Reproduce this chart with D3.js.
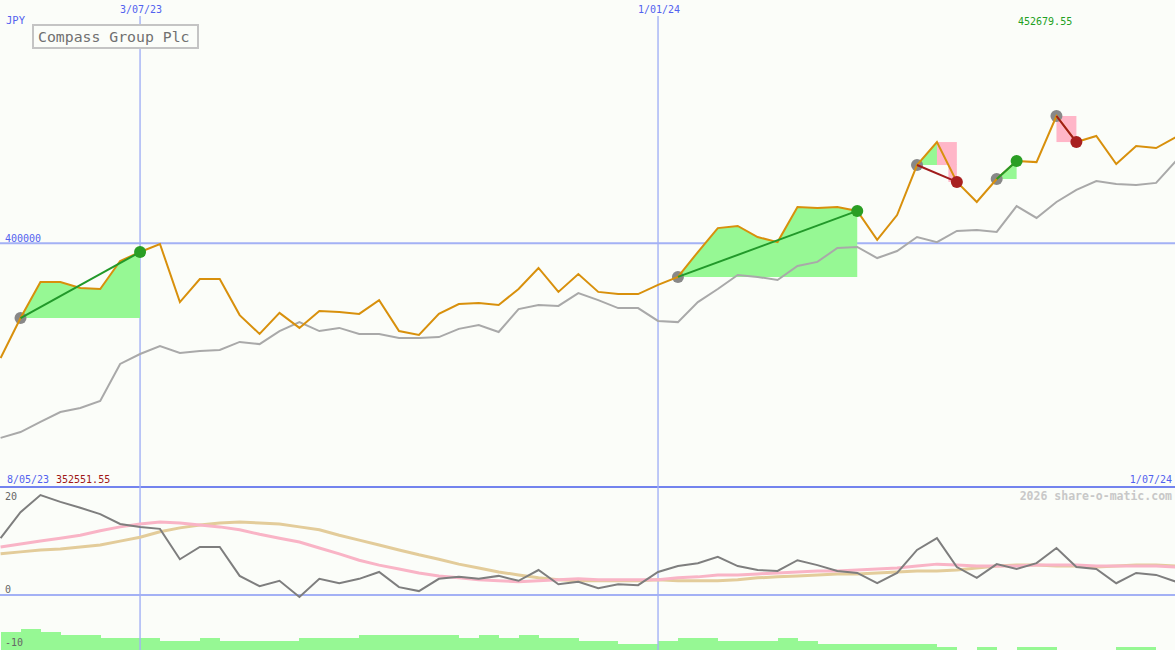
<!DOCTYPE html>
<html><head><meta charset="utf-8">
<script src="https://cdn.jsdelivr.net/npm/d3@7"></script>
<style>body{margin:0;background:#fbfdf9;} svg{display:block;}</style>
</head><body>
<svg id="c" width="1175" height="650"></svg>
<script>
// ---------- DATA ----------
const startDate = "2023-05-15";   // first weekly point
const weekCount = 60;
const title = "Compass Group Plc";
const currency = "JPY";
const firstLabel = "8/05/23";
const lastLabel = "1/07/24";
const priceMin = 352551.55;
const priceMax = 452679.55;
const gridPrices = [400000];
const gridDates = ["2023-07-03", "2024-01-01"];
const oscTicks = [20, 0, -10];
const watermark = "2026 share-o-matic.com";

const price = [352551.55, 369100, 384000, 384000, 381500, 381100, 392700, 396400, 399700, 375700,
  385200, 385200, 370300, 362500, 371200, 365000, 372000, 371600, 370800, 376500,
  363700, 362100, 370800, 374900, 375300, 374500, 381100, 389800, 379900, 387300,
  379900, 379000, 379000, 382800, 386100, 396400, 406300, 407200, 402600, 400500,
  415000, 414600, 415000, 413400, 401400, 411700, 432400, 441900, 425400, 417100,
  426600, 434100, 433600, 452679.55, 441900, 444400, 432800, 440300, 439400, 444000];

const average = [319500, 321900, 326100, 330200, 331900, 334800, 350100, 354200, 357500, 354600,
  355400, 355900, 359200, 358300, 363700, 367400, 363700, 365000, 362500, 362500,
  360800, 360800, 361200, 364600, 366200, 363300, 372800, 374500, 374100, 379400,
  376500, 373200, 373200, 367900, 367400, 375700, 381100, 386900, 386100, 384800,
  390600, 392300, 398100, 398500, 393900, 396800, 402600, 400500, 405100, 405500,
  404700, 415400, 410500, 417100, 422100, 425800, 424500, 424100, 425000, 434100];

const oscillator = [11.6, 16.9, 20.4, 19.0, 17.8, 16.5, 14.5, 13.9, 13.5, 7.3,
  9.8, 9.8, 3.9, 1.8, 2.9, -0.4, 3.3, 2.4, 3.3, 4.7,
  1.6, 0.8, 3.3, 3.7, 3.3, 3.9, 2.9, 5.1, 2.2, 2.7,
  1.4, 2.2, 2.0, 4.7, 5.9, 6.5, 7.8, 5.9, 5.1, 4.9,
  7.1, 6.1, 4.9, 4.5, 2.4, 4.5, 9.2, 11.6, 5.7, 3.5,
  6.3, 5.3, 6.5, 9.6, 5.7, 5.3, 2.4, 4.5, 4.1, 2.7];

const oscPink = [9.8, 10.4, 11.0, 11.6, 12.2, 13.1, 13.9, 14.5, 14.9, 14.7,
  14.3, 13.9, 13.3, 12.4, 11.6, 10.8, 9.6, 8.4, 7.1, 6.1,
  5.3, 4.5, 3.9, 3.5, 3.1, 2.9, 2.7, 2.9, 3.1, 3.3,
  3.1, 3.1, 3.1, 3.1, 3.5, 3.7, 4.1, 4.1, 4.3, 4.5,
  4.7, 4.9, 4.9, 5.1, 5.3, 5.5, 5.9, 6.3, 6.1, 5.9,
  5.9, 5.9, 6.1, 6.1, 6.1, 5.9, 5.9, 5.9, 5.9, 5.7];

const oscTan = [8.4, 8.8, 9.2, 9.4, 9.8, 10.2, 11.0, 11.8, 12.9, 13.7,
  14.3, 14.7, 14.9, 14.7, 14.5, 13.9, 13.3, 12.2, 11.2, 10.2,
  9.2, 8.2, 7.3, 6.3, 5.5, 4.7, 4.1, 3.5, 3.1, 2.9,
  2.9, 2.9, 2.9, 3.1, 2.9, 2.9, 2.9, 3.1, 3.5, 3.7,
  3.9, 4.1, 4.3, 4.3, 4.5, 4.7, 4.9, 4.9, 5.1, 5.5,
  5.9, 6.1, 6.1, 5.9, 5.9, 5.7, 5.9, 6.1, 6.1, 5.9];

// weekly bars (one per interval between points)
const bars = [6, 7, 6, 5, 5, 4, 4, 4, 3, 3,
  4, 3, 3, 3, 3, 4, 4, 4, 5, 5,
  5, 5, 5, 4, 5, 4, 5, 4, 4, 3,
  3, 2, 2, 3, 4, 4, 3, 3, 3, 4,
  3, 2, 2, 2, 2, 2, 2, 1, 0, 1,
  0, 1, 1, 0, 0, 0, 1, 1, 0];

const tradeEntries = [1, 34, 46, 50, 53];
const tradeExits   = [7, 43, 48, 51, 54];

// ---------- CHART ----------
const W = 1175, H = 650;
const svg = d3.select("#c");
const font = "'DejaVu Sans Mono', monospace";
const parse = d3.timeParse("%Y-%m-%d");
const start = parse(startDate);
const dates = d3.range(weekCount).map(i => d3.timeDay.offset(start, 7 * i));
const fmt = d3.timeFormat("%-d/%m/%y");

const x = d3.scaleTime().domain([dates[0], dates[weekCount - 1]]).range([0.6, 1176]);
const y = d3.scaleLinear().domain([priceMin, priceMax]).range([358, 116]);
const yo = d3.scaleLinear().domain([-10, 20]).range([644, 497]);
const yb = d3.scaleLinear().domain([0, 7]).range([650, 628.7]);

const lightBlue = "#a3b1f5", darkBlue = "#7383ee", textBlue = "#5262ef";

svg.append("rect").attr("width", W).attr("height", H).attr("fill", "#fbfdf9");

// grid lines
gridPrices.forEach(p => {
  svg.append("line").attr("x1", 0).attr("x2", W).attr("y1", y(p)).attr("y2", y(p))
    .attr("stroke", lightBlue).attr("stroke-width", 2);
});
svg.append("line").attr("x1", 0).attr("x2", W).attr("y1", yo(0)).attr("y2", yo(0))
  .attr("stroke", lightBlue).attr("stroke-width", 2);
svg.append("line").attr("x1", 0).attr("x2", W).attr("y1", 487).attr("y2", 487)
  .attr("stroke", darkBlue).attr("stroke-width", 2.2);

// bars
svg.append("g").selectAll("rect").data(bars).join("rect")
  .attr("x", (d, i) => x(dates[i]))
  .attr("width", (d, i) => x(dates[i + 1]) - x(dates[i]) + 0.3)
  .attr("y", d => yb(d))
  .attr("height", d => yb(0) - yb(d))
  .attr("fill", "#96f894")
  .attr("shape-rendering", "crispEdges");

gridDates.forEach(ds => {
  const gx = x(parse(ds));
  svg.append("line").attr("x1", gx).attr("x2", gx).attr("y1", 16).attr("y2", H)
    .attr("stroke", lightBlue).attr("stroke-width", 1.4);
  svg.append("text").attr("x", gx + 1).attr("y", 13).attr("text-anchor", "middle")
    .attr("font-family", font).attr("font-size", 10).attr("fill", textBlue).text(fmt(parse(ds)));
});

// trade fills
const fills = svg.append("g");
tradeEntries.forEach((e, t) => {
  const ex = tradeExits[t];
  const ev = price[e];
  const idx = d3.range(e, ex + 1);
  const area = d3.area().x(i => x(dates[i])).y0(y(ev)).y1(i => y(Math.max(price[i], ev)));
  fills.append("path").attr("d", area(idx)).attr("fill", "#96f894");
  if (price[ex] < ev) {
    const p = idx.reduce((a, b) => price[b] > price[a] ? b : a, e);
    if (p !== e) {
      fills.append("rect").attr("x", x(dates[p])).attr("width", x(dates[ex]) - x(dates[p]))
        .attr("y", y(price[p])).attr("height", y(ev) - y(price[p])).attr("fill", "#ffb6c8");
    }
    let xc = x(dates[p]);
    for (let k = p; k < ex; k++) {
      if (price[k] >= ev && price[k + 1] < ev) {
        const tt = (price[k] - ev) / (price[k] - price[k + 1]);
        xc = x(dates[k]) + tt * (x(dates[k + 1]) - x(dates[k]));
        break;
      }
    }
    fills.append("rect").attr("x", xc).attr("width", x(dates[ex]) - xc)
      .attr("y", y(ev)).attr("height", y(price[ex]) - y(ev)).attr("fill", "#ffb6c8");
  }
});

// lower panel lines
const lo = d3.line().x((d, i) => x(dates[i])).y(d => yo(d));
svg.append("path").attr("d", lo(oscTan)).attr("fill", "none").attr("stroke", "#e3cc9a").attr("stroke-width", 3);
svg.append("path").attr("d", lo(oscPink)).attr("fill", "none").attr("stroke", "#f9b4c6").attr("stroke-width", 3);
svg.append("path").attr("d", lo(oscillator)).attr("fill", "none").attr("stroke", "#7e7e7e").attr("stroke-width", 2);

// price lines
const lp = d3.line().x((d, i) => x(dates[i])).y(d => y(d));
svg.append("path").attr("d", lp(average)).attr("fill", "none").attr("stroke", "#a9a9a9").attr("stroke-width", 2);

// entry dots
tradeEntries.forEach(e => {
  svg.append("circle").attr("cx", x(dates[e])).attr("cy", y(price[e])).attr("r", 6).attr("fill", "#888888");
});
svg.append("path").attr("d", lp(price)).attr("fill", "none").attr("stroke", "#d8900c").attr("stroke-width", 2);

tradeEntries.forEach((e, t) => {
  const ex = tradeExits[t];
  const win = price[ex] >= price[e];
  svg.append("line").attr("x1", x(dates[e])).attr("y1", y(price[e]))
    .attr("x2", x(dates[ex])).attr("y2", y(price[ex]))
    .attr("stroke", win ? "#22992a" : "#a01c1c").attr("stroke-width", 2);
  svg.append("circle").attr("cx", x(dates[ex])).attr("cy", y(price[ex])).attr("r", 6)
    .attr("fill", win ? "#2a9e24" : "#a82020");
});

// texts
function txt(tx, ty, s, col, size, anchor, weight) {
  svg.append("text").attr("x", tx).attr("y", ty).attr("font-family", font)
    .attr("font-size", size).attr("fill", col).attr("text-anchor", anchor || "start")
    .attr("font-weight", weight || "normal").text(s);
}
txt(6, 24, currency, textBlue, 10.5);
svg.append("rect").attr("x", 33).attr("y", 25).attr("width", 165).attr("height", 23)
  .attr("fill", "#fbfdf9").attr("stroke", "#c4c4c4").attr("stroke-width", 2);
txt(38, 41.5, title, "#707070", 14.8);
txt(1018, 25, d3.format(".2f")(priceMax), "#22a022", 10);
gridPrices.forEach(p => txt(5, y(p) - 1.5, String(p), textBlue, 10));
txt(7, 483, firstLabel, textBlue, 10);
txt(56, 483, d3.format(".2f")(priceMin), "#a01818", 10);
txt(1172, 483, lastLabel, textBlue, 10, "end");
txt(1172, 500, watermark, "#c8c8c8", 11.5, "end", "bold");
oscTicks.forEach(v => {
  const ty = v === 20 ? yo(v) + 3 : (v === -10 ? yo(v) + 2 : yo(v) - 2);
  txt(5, ty, String(v), "#666666", 10);
});
</script>
</body></html>
